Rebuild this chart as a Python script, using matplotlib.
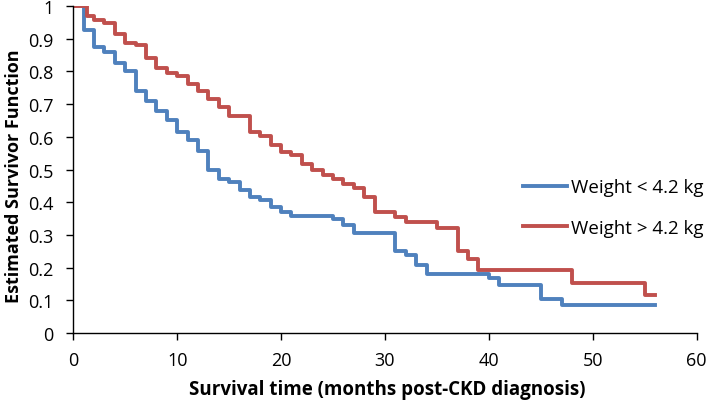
import matplotlib
matplotlib.use("Agg")
import matplotlib.pyplot as plt

plt.rcParams['font.family'] = ['Open Sans', 'DejaVu Sans']

# Weight < 4.2 kg
t_low = [0, 1, 2, 3, 4, 5, 6, 7, 8, 9, 10, 11, 12, 13, 14, 15, 16, 17, 18, 19, 20, 21,
         25, 26, 27, 31, 32, 33, 34, 40, 41, 45, 47, 56]
s_low = [1.0, 0.928, 0.875, 0.858, 0.826, 0.80, 0.74, 0.71, 0.68, 0.65, 0.614, 0.589,
         0.558, 0.498, 0.472, 0.462, 0.437, 0.417, 0.407, 0.386, 0.371, 0.358,
         0.348, 0.331, 0.306, 0.25, 0.24, 0.209, 0.179, 0.167, 0.146, 0.103, 0.085, 0.085]

# Weight > 4.2 kg
t_high = [0, 1.3, 2, 3, 4, 5, 6, 7, 8, 9, 10, 11, 12, 13, 14, 15, 17, 18, 19, 20, 21, 22,
          23, 24, 25, 26, 27, 28, 29, 31, 32, 35, 37, 38, 39, 48, 55, 56]
s_high = [1.0, 0.97, 0.958, 0.948, 0.913, 0.887, 0.882, 0.84, 0.811, 0.796, 0.786, 0.761,
          0.74, 0.715, 0.69, 0.665, 0.614, 0.604, 0.574, 0.553, 0.543, 0.518, 0.498,
          0.483, 0.47, 0.457, 0.442, 0.417, 0.371, 0.356, 0.341, 0.321, 0.25, 0.225,
          0.194, 0.154, 0.115, 0.115]

labels = ["Weight < 4.2 kg", "Weight > 4.2 kg"]
x_ticks = [0, 10, 20, 30, 40, 50, 60]
y_ticks = [0, 0.1, 0.2, 0.3, 0.4, 0.5, 0.6, 0.7, 0.8, 0.9, 1]
y_ticklabels = ["0", "0.1", "0.2", "0.3", "0.4", "0.5", "0.6", "0.7", "0.8", "0.9", "1"]

fig = plt.figure(figsize=(7.09, 4.06), dpi=100)
ax = fig.add_axes([0.1034, 0.1773, 0.8792, 0.8054])

blue = "#4F81BD"
red = "#C0504D"
ax.plot(t_low, s_low, drawstyle="steps-post", color=blue, lw=2.8, label=labels[0])
ax.plot(t_high, s_high, drawstyle="steps-post", color=red, lw=2.8, label=labels[1])

ax.set_xlim(0, 60)
ax.set_ylim(0, 1)
ax.set_xticks(x_ticks)
ax.set_yticks(y_ticks)
ax.set_yticklabels(y_ticklabels)
for s in ["top", "right"]:
    ax.spines[s].set_visible(False)
for s in ["left", "bottom"]:
    ax.spines[s].set_color("black")
    ax.spines[s].set_linewidth(1.0)
ax.tick_params(axis="both", direction="out", length=5, width=1.0, colors="black",
               labelsize=13)
ax.tick_params(axis="y", pad=9)
ax.tick_params(axis="x", pad=8)

ax.set_xlabel("Survival time (months post-CKD diagnosis)", fontsize=13.5,
              fontweight="bold")
ax.set_ylabel("Estimated Survivor Function", fontsize=13, fontweight="bold")
ax.xaxis.set_label_coords(0.503, -0.14)
ax.yaxis.set_label_coords(-0.0815, 0.483)

leg = ax.legend(loc="center left", bbox_to_anchor=(0.7214, 0.384), frameon=False,
                fontsize=13.5, handlelength=2.35, handletextpad=0.2, labelspacing=1.2,
                borderpad=0, borderaxespad=0)

fig.savefig("out.png", dpi=100)
